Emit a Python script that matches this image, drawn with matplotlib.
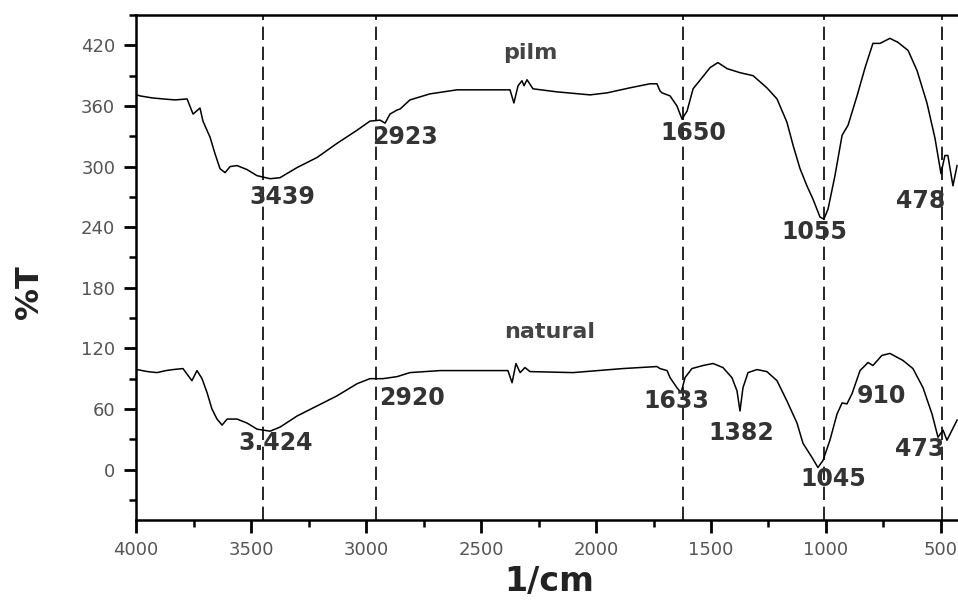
import numpy as np
import matplotlib.pyplot as plt
from matplotlib.ticker import MultipleLocator

# pilm spectrum (wavenumber, %T)
pilm_wn = [3996, 3983, 3930, 3883, 3830, 3778, 3752, 3722, 3709, 3678, 3657, 3635,
           3613, 3591, 3561, 3517, 3474, 3417, 3374, 3300, 3213, 3126, 3039, 2983,
           2939, 2917, 2896, 2865, 2852, 2809, 2722, 2604, 2461, 2374, 2357, 2339,
           2322, 2313, 2300, 2274, 2170, 2026, 1952, 1852, 1765, 1735, 1722, 1713,
           1678, 1648, 1626, 1604, 1578, 1539, 1504, 1470, 1430, 1374, 1317, 1257,
           1213, 1170, 1143, 1113, 1083, 1057, 1026, 1009, 991, 961, 930, 904, 865,
           830, 796, 765, 722, 687, 643, 604, 561, 526, 500, 483, 470, 448, 430]
pilm_t = [371, 370, 368, 367, 366, 367, 352, 358, 345, 329, 313, 298,
          294, 300, 301, 297, 291, 288, 289, 299, 309, 323, 336, 345,
          346, 343, 352, 356, 357, 366, 372, 376, 376, 376, 363, 380,
          385, 380, 386, 377, 374, 371, 373, 378, 382, 382, 375, 373,
          370, 360, 347, 355, 377, 388, 398, 403, 397, 393, 390, 378,
          367, 344, 321, 298, 281, 268, 250, 248, 258, 291, 331, 341, 370,
          398, 422, 422, 427, 423, 415, 395, 363, 328, 293, 311, 311, 281, 301]

# natural spectrum
nat_wn = [3996, 3950, 3909, 3870, 3839, 3796, 3757, 3735, 3713, 3691, 3670, 3648,
          3626, 3604, 3561, 3517, 3474, 3417, 3374, 3300, 3213, 3126, 3039, 2983,
          2926, 2896, 2865, 2809, 2678, 2461, 2383, 2365, 2348, 2330, 2309, 2287,
          2100, 1883, 1735, 1722, 1691, 1678, 1648, 1630, 1613, 1583, 1535, 1491,
          1448, 1409, 1387, 1374, 1361, 1339, 1300, 1257, 1213, 1170, 1126, 1100,
          1061, 1035, 1013, 983, 952, 930, 909, 887, 852, 817, 796, 757, 722, 665,
          622, 578, 539, 513, 491, 474, 452, 430]
nat_t = [99, 97, 96, 98, 99, 100, 88, 98, 90, 76, 60, 50,
         44, 50, 50, 46, 40, 38, 42, 53, 63, 73, 85, 90,
         90, 91, 92, 96, 98, 98, 98, 86, 105, 96, 101, 97,
         96, 100, 102, 100, 98, 91, 81, 76, 91, 100, 103, 105,
         101, 91, 78, 58, 81, 96, 99, 97, 88, 68, 46, 26,
         12, 2, 9, 29, 55, 66, 65, 75, 98, 106, 103, 113, 115, 108,
         100, 81, 55, 32, 39, 29, 39, 49]

ref_lines = [3448, 2957, 1622, 1009, 496]

labels = ['3439', '2923', '1650', '1055', '478',
          '3.424', '2920', '1633', '1382', '1045', '910', '473']
label_wn = [3365, 2830, 1578, 1052, 587,
            3391, 2800, 1652, 1370, 970, 757, 591]
label_t = [270, 329, 333, 235, 266,
           26, 71, 68, 36, -9, 73, 20]

fig = plt.figure(figsize=(9.58, 6.04), dpi=100)
ax = fig.add_axes([0.142, 0.139, 0.858, 0.836])

ax.plot(pilm_wn, pilm_t, color='black', lw=1.1)
ax.plot(nat_wn, nat_t, color='black', lw=1.1)

for wn in ref_lines:
    ax.axvline(wn, color='black', lw=1.2, dashes=(8, 4))

for txt, x, y in zip(labels, label_wn, label_t):
    ax.text(x, y, txt, ha='center', va='center', fontsize=17,
            fontweight='bold', color='#333333')

ax.text(2287, 412, 'pilm', ha='center', va='center', fontsize=16,
        fontweight='bold', color='#444444')
ax.text(2200, 136, 'natural', ha='center', va='center', fontsize=16,
        fontweight='bold', color='#444444')

ax.set_xlim(4000, 426)
ax.set_ylim(-50, 450)
ax.xaxis.set_major_locator(MultipleLocator(500))
ax.xaxis.set_minor_locator(MultipleLocator(250))
ax.yaxis.set_major_locator(MultipleLocator(60))
ax.yaxis.set_minor_locator(MultipleLocator(30))

ax.spines['right'].set_visible(False)
for s in ['left', 'bottom', 'top']:
    ax.spines[s].set_linewidth(1.8)
ax.tick_params(which='major', direction='out', length=9, width=2,
               labelsize=13, labelcolor='#555555', pad=6)
ax.tick_params(which='minor', direction='out', length=5, width=1.8)
ax.tick_params(top=False, right=False, which='both')

fig.text(0.031, 0.517, '%T', rotation=90, ha='center', va='center',
         fontsize=23, fontweight='bold', color='#222222')
fig.text(0.573, 0.037, '1/cm', ha='center', va='center',
         fontsize=24, fontweight='bold', color='#222222')

fig.savefig('out.png', dpi=100)
